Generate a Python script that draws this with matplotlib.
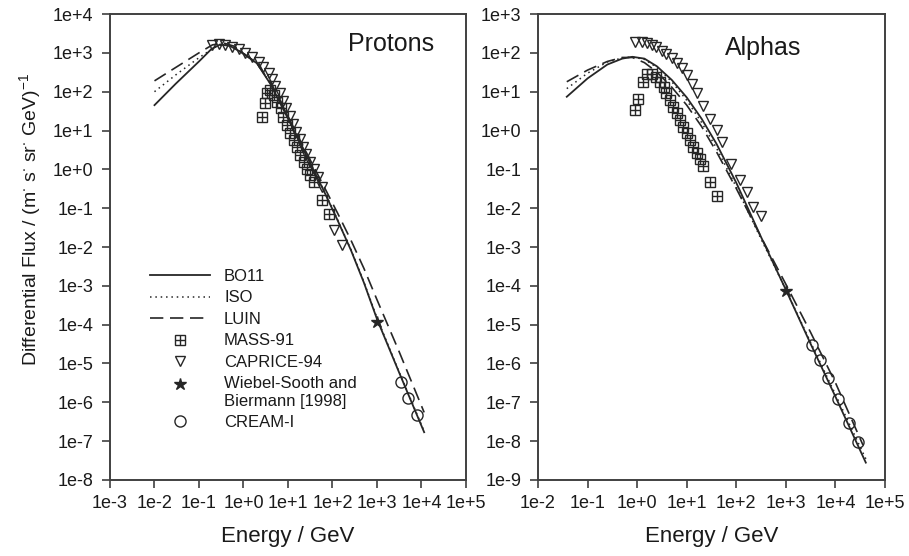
import matplotlib
matplotlib.use('Agg')
import matplotlib.pyplot as plt
from matplotlib.lines import Line2D
from matplotlib.legend_handler import HandlerTuple, HandlerLine2D
from matplotlib.ticker import FixedLocator, NullLocator

plt.rcParams['font.family'] = ['Liberation Sans', 'DejaVu Sans']
plt.rcParams['mathtext.default'] = 'regular'

# ---------------- Protons (left panel) ----------------
p_bo11_E = [0.01, 0.03, 0.1, 0.19, 0.3, 0.5, 0.85, 2.0, 4.0, 8.0, 16, 32, 63, 130, 260, 510, 1000, 3160, 11500]
p_bo11_F = [45, 160, 600, 1250, 1650, 1500, 1070, 540, 160, 34, 6.9, 1.4, 0.29, 0.049, 8.3e-3, 1.2e-3, 1.4e-4, 5.8e-6, 1.7e-7]
p_iso_E = [0.01, 0.03, 0.1, 0.25, 0.4, 0.6, 0.85, 2.0, 4.0, 8.0, 16, 32, 63, 130, 260, 510, 1000, 3160, 11500]
p_iso_F = [100, 270, 750, 1500, 1650, 1450, 1100, 550, 165, 35, 7.1, 1.45, 0.30, 0.051, 8.6e-3, 1.25e-3, 1.5e-4, 6.0e-6, 1.8e-7]
p_luin_E = [0.01, 0.03, 0.1, 0.2, 0.35, 0.6, 0.85, 2.0, 4.0, 8.0, 16, 32, 63, 130, 260, 510, 1000, 3160, 11500]
p_luin_F = [190, 420, 1000, 1600, 1800, 1500, 1100, 550, 170, 38, 8.0, 1.7, 0.38, 0.075, 0.015, 2.8e-3, 4.4e-4, 2.0e-5, 5.5e-7]

p_mass_E = [2.6, 3.1, 3.4, 4.0, 4.8, 5.6, 6.8, 7.9, 9.5, 11.2, 13.5, 15.8, 19, 22.4, 27, 31.6, 38, 59, 83]
p_mass_F = [22, 51, 91, 110, 81, 55, 37, 22, 14, 8.5, 5.6, 3.8, 2.3, 1.55, 1.05, 0.71, 0.48, 0.16, 0.072]

p_caprice_E = [0.195, 0.275, 0.39, 0.55, 0.78, 1.1, 1.55, 2.2, 2.8, 3.7, 4.4, 5.2, 6.5, 7.8, 9.1, 11, 12.9,
               15.5, 18.2, 21.9, 25.7, 31, 38, 47, 59, 107, 166]
p_caprice_F = [1580, 1700, 1580, 1450, 1230, 1000, 790, 590, 430, 295, 210, 138, 91, 59, 37, 23, 14.5,
               9.3, 5.9, 3.8, 2.45, 1.55, 1.0, 0.65, 0.35, 0.027, 0.011]

p_ws_E = [1000]
p_ws_F = [1.2e-4]

p_cream_E = [3400, 5100, 7800]
p_cream_F = [3.3e-6, 1.26e-6, 4.6e-7]

# ---------------- Alphas (right panel) ----------------
a_bo11_E = [0.038, 0.1, 0.25, 0.5, 0.8, 1.4, 2.5, 5.0, 10, 20, 40, 100, 316, 1000, 3160, 10000, 41000]
a_bo11_F = [7.4, 22, 50, 71, 79, 71, 45, 20, 7.1, 2.0, 0.45, 0.045, 1.8e-3, 7.9e-5, 3.2e-6, 1.4e-7, 2.8e-9]
a_iso_E = [0.038, 0.1, 0.25, 0.5, 0.8, 1.4, 2.5, 5.0, 10, 20, 40, 100, 316, 1000, 3160, 10000, 41000]
a_iso_F = [12, 30, 58, 74, 78, 68, 42, 18, 6.0, 1.6, 0.35, 0.035, 1.6e-3, 8.0e-5, 3.5e-6, 1.6e-7, 3.5e-9]
a_luin_E = [0.038, 0.1, 0.25, 0.5, 0.8, 1.4, 2.5, 5.0, 10, 20, 40, 100, 316, 1000, 3160, 10000, 36000]
a_luin_F = [18, 36, 60, 76, 76, 56, 32, 13, 4.5, 1.26, 0.28, 0.032, 1.8e-3, 1.1e-4, 6.3e-6, 3.2e-7, 7.9e-9]

a_mass_E = [0.91, 1.05, 1.29, 1.55, 1.95, 2.45, 2.9, 3.4, 3.9, 4.6, 5.4, 6.3, 7.2, 8.5, 10, 11.5, 13.5,
            15.8, 18.6, 21.4, 29.5, 40.7]
a_mass_F = [3.4, 6.3, 18, 28, 28, 24, 18, 13.5, 9.1, 6.0, 4.1, 2.75, 1.86, 1.26, 0.85, 0.56, 0.38,
            0.26, 0.18, 0.12, 0.048, 0.020]

a_caprice_E = [0.91, 1.23, 1.55, 1.95, 2.45, 3.1, 3.9, 5.0, 6.3, 7.9, 10, 12.6, 15.8, 20.9, 29.5, 40.7,
               52.5, 79, 117, 166, 219, 309]
a_caprice_F = [195, 195, 182, 158, 138, 112, 93, 72, 56, 40, 27, 16, 9.1, 4.3, 2.0, 1.02,
               0.51, 0.14, 0.052, 0.026, 0.0105, 0.0062]

a_ws_E = [1000]
a_ws_F = [7.4e-5]

a_cream_E = [3310, 4900, 7080, 11200, 19000, 28800]
a_cream_F = [2.95e-6, 1.26e-6, 4.3e-7, 1.23e-7, 2.95e-8, 9.8e-9]

p_xticks = [1e-3, 1e-2, 1e-1, 1e0, 1e1, 1e2, 1e3, 1e4, 1e5]
p_xlabels = ['1e-3', '1e-2', '1e-1', '1e+0', '1e+1', '1e+2', '1e+3', '1e+4', '1e+5']
p_yticks = [1e-8, 1e-7, 1e-6, 1e-5, 1e-4, 1e-3, 1e-2, 1e-1, 1e0, 1e1, 1e2, 1e3, 1e4]
p_ylabels = ['1e-8', '1e-7', '1e-6', '1e-5', '1e-4', '1e-3', '1e-2', '1e-1', '1e+0', '1e+1', '1e+2', '1e+3', '1e+4']
a_xticks = [1e-2, 1e-1, 1e0, 1e1, 1e2, 1e3, 1e4, 1e5]
a_xlabels = ['1e-2', '1e-1', '1e+0', '1e+1', '1e+2', '1e+3', '1e+4', '1e+5']
a_yticks = [1e-9, 1e-8, 1e-7, 1e-6, 1e-5, 1e-4, 1e-3, 1e-2, 1e-1, 1e0, 1e1, 1e2, 1e3]
a_ylabels = ['1e-9', '1e-8', '1e-7', '1e-6', '1e-5', '1e-4', '1e-3', '1e-2', '1e-1', '1e+0', '1e+1', '1e+2', '1e+3']

INK = '#262626'
SPINE = '#404040'
TXT = '#1a1a1a'
MK = dict(linestyle='none', mfc='none', mec=INK, mew=1.0)


class RaisedHandler(HandlerLine2D):
    # keeps the star level with the first line of a two-line label
    def create_artists(self, legend, orig_handle, xdescent, ydescent,
                       width, height, fontsize, trans):
        return super().create_artists(legend, orig_handle, xdescent, ydescent - 13,
                                      width, height, fontsize, trans)


def draw_panel(ax, d, xticks, xlabels, yticks, ylabels, xlim, ylim):
    ax.plot(d['bo11'][0], d['bo11'][1], color=INK, lw=1.3, ls='-')
    ax.plot(d['iso'][0], d['iso'][1], color=INK, lw=1.1, ls=(0, (1, 2.5)))
    ax.plot(d['luin'][0], d['luin'][1], color=INK, lw=1.2, ls=(0, (8, 4)))
    ax.plot(d['mass'][0], d['mass'][1], marker='s', ms=7.5, **MK)
    ax.plot(d['mass'][0], d['mass'][1], marker='+', ms=7.5, **MK)
    ax.plot(d['caprice'][0], d['caprice'][1], marker='v', ms=7.5, **MK)
    ax.plot(d['ws'][0], d['ws'][1], marker='*', ms=9, linestyle='none', color=INK)
    ax.plot(d['cream'][0], d['cream'][1], marker='o', ms=8, **MK)

    ax.set_xscale('log')
    ax.set_yscale('log')
    ax.set_xlim(*xlim)
    ax.set_ylim(*ylim)
    ax.xaxis.set_major_locator(FixedLocator(xticks))
    ax.xaxis.set_minor_locator(NullLocator())
    ax.yaxis.set_major_locator(FixedLocator(yticks))
    ax.yaxis.set_minor_locator(NullLocator())
    ax.set_xticklabels(xlabels)
    ax.set_yticklabels(ylabels)
    ax.tick_params(direction='out', length=6, width=1.2, color=SPINE,
                   labelsize=13, labelcolor=TXT)
    ax.tick_params(axis='x', pad=5)
    ax.tick_params(axis='y', pad=6)
    for s in ax.spines.values():
        s.set_color(SPINE)
        s.set_linewidth(1.4)
    ax.set_xlabel('Energy / GeV', fontsize=16, color=TXT, labelpad=10)


fig = plt.figure(figsize=(9.09, 5.56), dpi=100)
ax1 = fig.add_axes([0.1210, 0.1367, 0.3916, 0.8381])
ax2 = fig.add_axes([0.5919, 0.1367, 0.3817, 0.8381])

protons = dict(bo11=(p_bo11_E, p_bo11_F), iso=(p_iso_E, p_iso_F), luin=(p_luin_E, p_luin_F),
               mass=(p_mass_E, p_mass_F), caprice=(p_caprice_E, p_caprice_F),
               ws=(p_ws_E, p_ws_F), cream=(p_cream_E, p_cream_F))
alphas = dict(bo11=(a_bo11_E, a_bo11_F), iso=(a_iso_E, a_iso_F), luin=(a_luin_E, a_luin_F),
              mass=(a_mass_E, a_mass_F), caprice=(a_caprice_E, a_caprice_F),
              ws=(a_ws_E, a_ws_F), cream=(a_cream_E, a_cream_F))

draw_panel(ax1, protons, p_xticks, p_xlabels, p_yticks, p_ylabels, (1e-3, 1e5), (1e-8, 1e4))
draw_panel(ax2, alphas, a_xticks, a_xlabels, a_yticks, a_ylabels, (1e-2, 1e5), (1e-9, 1e3))

ax1.text(0.669, 0.936, 'Protons', transform=ax1.transAxes, fontsize=18,
         ha='left', va='center', color=TXT)
ax2.text(0.539, 0.927, 'Alphas', transform=ax2.transAxes, fontsize=18,
         ha='left', va='center', color=TXT)

fig.text(0.033, 0.605, r'Differential Flux / (m$^{\cdot}$ s$^{\cdot}$ sr$^{\cdot}$ GeV)$^{-1}$',
         rotation=90, ha='center', va='center', fontsize=14, color=TXT)

# legend (left panel)
h_bo11 = Line2D([], [], color=INK, lw=1.3, ls='-')
h_iso = Line2D([], [], color=INK, lw=1.1, ls=(0, (1, 2.5)))
h_luin = Line2D([], [], color=INK, lw=1.2, ls=(0, (8, 4)))
h_mass = (Line2D([], [], marker='s', ms=7.5, **MK), Line2D([], [], marker='+', ms=7.5, **MK))
h_cap = Line2D([], [], marker='v', ms=7.5, **MK)
h_ws = Line2D([], [], marker='*', ms=9, linestyle='none', color=INK)
h_cream = Line2D([], [], marker='o', ms=8, **MK)
ax1.legend([h_bo11, h_iso, h_luin, h_mass, h_cap, h_ws, h_cream],
           ['BO11', 'ISO', 'LUIN', 'MASS-91', 'CAPRICE-94', 'Wiebel-Sooth and\nBiermann [1998]', 'CREAM-I'],
           handler_map={tuple: HandlerTuple(ndivide=1, pad=0), h_ws: RaisedHandler()},
           loc='upper left', bbox_to_anchor=(0.112, 0.453), frameon=False,
           borderpad=0, borderaxespad=0, handlelength=3.6, handletextpad=0.85,
           labelspacing=0.39, numpoints=1, fontsize=12, labelcolor=TXT)

fig.savefig('out.png', dpi=100, facecolor='white')
